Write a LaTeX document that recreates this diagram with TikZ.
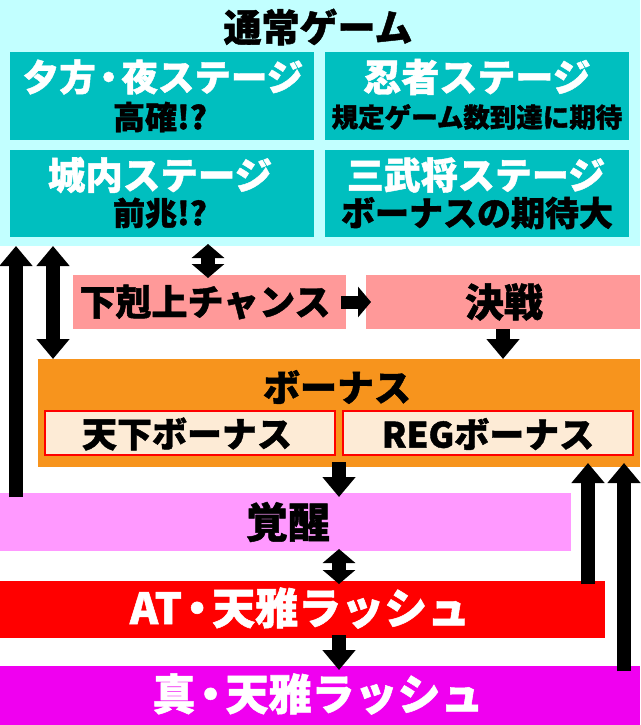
\documentclass[tikz,border=0pt]{standalone}
\usepackage{fontspec}
\setmainfont{Noto Sans CJK JP}[BoldFont={Noto Sans CJK JP Black},BoldFeatures={FakeBold=1.2}]
\usetikzlibrary{arrows.meta}
\definecolor{cyanbg}{HTML}{C2FFFF}
\definecolor{tealbox}{HTML}{00BFBF}
\definecolor{pinkbox}{HTML}{FF9999}
\definecolor{orangebox}{HTML}{F7941D}
\definecolor{peachbox}{HTML}{FDEBD6}
\definecolor{lilacbox}{HTML}{FF99FF}
\definecolor{redbox}{HTML}{FF0000}
\definecolor{magbox}{HTML}{F000F0}
\newcommand{\ndot}{\kern-.15em・\kern-.15em}
\begin{document}
\begin{tikzpicture}[x=1pt,y=-1pt,
  box/.style={rectangle, inner sep=0pt, outer sep=0pt, anchor=north west, draw=none},
  lbl/.style={inner sep=0pt, outer sep=0pt, font=\bfseries},
  fz/.style={font=\fontsize{#1}{#1}\selectfont\bfseries},
  fat/.style={line width=14pt, -{Triangle[width=32pt,length=20pt]}},
  fatboth/.style={line width=14pt, {Triangle[width=32pt,length=20pt]}-{Triangle[width=32pt,length=20pt]}},
  fatshort/.style={line width=14pt, {Triangle[width=32pt,length=14pt]}-{Triangle[width=32pt,length=14pt]}},
]
\useasboundingbox (0,0) rectangle (640,725);
% boxes
\node[box, fill=cyanbg, minimum width=640pt, minimum height=246pt] (normal) at (0,0) {};
\node[box, fill=tealbox, minimum width=304pt, minimum height=88pt] (s1) at (10,52) {};
\node[box, fill=tealbox, minimum width=304pt, minimum height=88pt] (s2) at (325,52) {};
\node[box, fill=tealbox, minimum width=304pt, minimum height=87pt] (s3) at (10,150) {};
\node[box, fill=tealbox, minimum width=304pt, minimum height=87pt] (s4) at (325,150) {};
\node[box, fill=pinkbox, minimum width=273pt, minimum height=54pt] (gek) at (73,275) {};
\node[box, fill=pinkbox, minimum width=274pt, minimum height=54pt] (kes) at (366,275) {};
\node[box, fill=orangebox, minimum width=602pt, minimum height=108pt] (bonus) at (38,359) {};
\node[box, fill=peachbox, draw=red, line width=1.2pt, minimum width=290pt, minimum height=44pt] (tenka) at (45,411) {};
\node[box, fill=peachbox, draw=red, line width=1.2pt, minimum width=290pt, minimum height=44pt] (reg) at (343,411) {};
\node[box, fill=lilacbox, minimum width=571pt, minimum height=58pt] (kak) at (0,493) {};
\node[box, fill=redbox, minimum width=605pt, minimum height=57pt] (at) at (0,581) {};
\node[box, fill=magbox, minimum width=640pt, minimum height=59pt] (shin) at (0,666) {};
% texts
\node[lbl, fz=38] (tnormal) at (318,27) {通常ゲーム};
\node[lbl, fz=36.5, text=white] (t1a) at (163,77) {夕方\ndot 夜ステージ};
\node[lbl, fz=32] (t1b) at (160,117) {高確!?};
\node[lbl, fz=38, text=white] (t2a) at (477,77) {忍者ステージ};
\node[lbl, fz=26.5] (t2b) at (477,117) {規定ゲーム数到達に期待};
\node[lbl, fz=37.5, text=white] (t3a) at (160,175) {城内ステージ};
\node[lbl, fz=32] (t3b) at (160,213) {前兆!?};
\node[lbl, fz=37, text=white] (t4a) at (476,175) {三武将ステージ};
\node[lbl, fz=34] (t4b) at (477,213) {ボーナスの期待大};
\node[lbl, fz=36] (tgek) at (205,302) {下剋上チャンス};
\node[lbl, fz=39] (tkes) at (504,302) {決戦};
\node[lbl, fz=37] (tbonus) at (337,387) {ボーナス};
\node[lbl, fz=35] (ttenka) at (187,434) {天下ボーナス};
\node[lbl, fz=35] (treg) at (488,434) {REGボーナス};
\node[lbl, fz=42] (tkak) at (288,522) {覚醒};
\node[lbl, fz=43, text=white] (tat) at (300,608) {AT\ndot 天雅ラッシュ};
\node[lbl, fz=43, text=white] (tshin) at (318,694) {真\ndot 天雅ラッシュ};
% arrow columns
\coordinate (xa) at (16,0);
\coordinate (xb) at (53,0);
\coordinate (xc) at (208,0);
\coordinate (xd) at (503,0);
\coordinate (xe) at (339,0);
\coordinate (xf) at (588,0);
\coordinate (xg) at (624,0);
% connectors
\draw[fat] ([yshift=-4pt]kak.north -| xa) -- (normal.south -| xa);
\draw[fatboth] (normal.south -| xb) -- (bonus.north -| xb);
\draw[fatshort] ([yshift=2pt]normal.south -| xc) -- ([yshift=-3pt]gek.north -| xc);
\draw[line width=13pt, -{Triangle[width=30pt,length=13pt]}] ([xshift=-5pt]gek.east) -- ([xshift=5pt]kes.west);
\draw[fat] (kes.south -| xd) -- (bonus.north -| xd);
\draw[fat] ([yshift=5pt]bonus.south -| xe) -- ([yshift=-4pt]kak.north -| xe);
\draw[fatshort] ([yshift=2pt]kak.south -| xe) -- ([yshift=-3pt]at.north -| xe);
\draw[fat] ([yshift=3pt]at.south -| xe) -- ([yshift=-4pt]shin.north -| xe);
\draw[fat] ([yshift=-3pt]at.north -| xf) -- ([yshift=4pt]bonus.south -| xf);
\draw[fat] ([yshift=-5pt]shin.north -| xg) -- ([yshift=4pt]bonus.south -| xg);
\end{tikzpicture}
\end{document}
